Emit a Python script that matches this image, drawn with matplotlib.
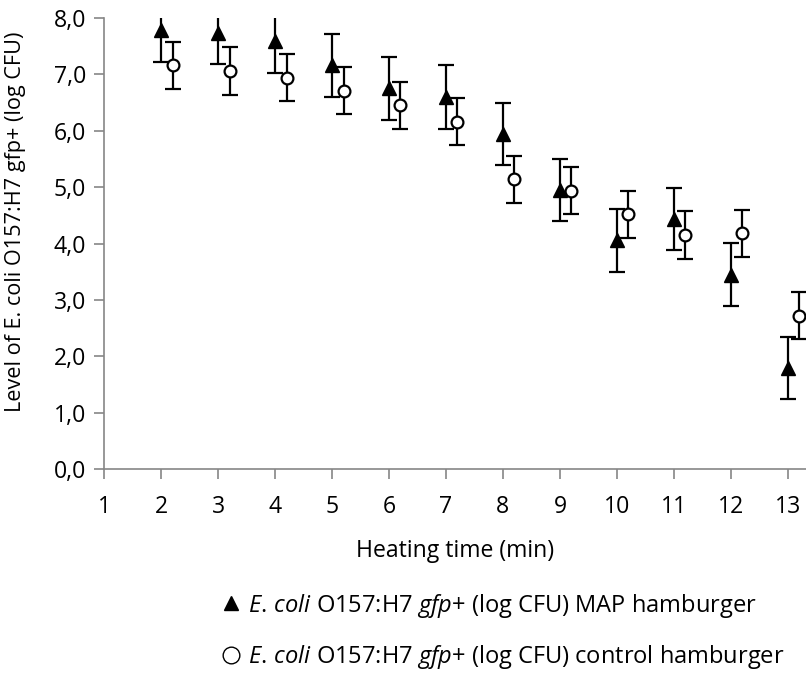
import matplotlib
matplotlib.use('Agg')
import matplotlib.pyplot as plt
from matplotlib.lines import Line2D

plt.rcParams['font.family'] = ['Open Sans', 'DejaVu Sans']
plt.rcParams['mathtext.fontset'] = 'custom'
plt.rcParams['mathtext.rm'] = 'Open Sans'
plt.rcParams['mathtext.it'] = 'Open Sans:italic'

# datos
tiempo = [2, 3, 4, 5, 6, 7, 8, 9, 10, 11, 12, 13]
map_media = [7.78, 7.74, 7.59, 7.16, 6.75, 6.60, 5.95, 4.95, 4.06, 4.44, 3.45, 1.80]
map_error = [0.56, 0.56, 0.56, 0.56, 0.56, 0.56, 0.55, 0.55, 0.56, 0.55, 0.56, 0.55]
control_media = [7.16, 7.06, 6.94, 6.71, 6.45, 6.16, 5.14, 4.94, 4.52, 4.15, 4.18, 2.72]
control_error = [0.42, 0.42, 0.42, 0.42, 0.42, 0.42, 0.42, 0.42, 0.42, 0.42, 0.42, 0.42]
desplazamiento = 0.2
tam = 16.6

fig = plt.figure(figsize=(8.06, 6.93), dpi=100)
ax = fig.add_axes([0.1294, 0.3232, 0.8706, 0.6508])

ax.errorbar(tiempo, map_media, yerr=map_error, fmt='^', color='black',
            markersize=10, elinewidth=1.6, capsize=6, capthick=1.6, zorder=3)
ax.errorbar([t + desplazamiento for t in tiempo], control_media, yerr=control_error,
            fmt='o', color='black', markerfacecolor='white', markeredgecolor='black',
            markeredgewidth=1.6, markersize=8.5, elinewidth=1.6, capsize=6,
            capthick=1.6, zorder=3)

ax.set_xlim(1, 13.32)
ax.set_ylim(0, 8)
ax.set_xticks(range(1, 14))
ax.set_yticks(range(0, 9))
ax.set_yticklabels([f'{v},0' for v in range(0, 9)])
for lado in ['top', 'right']:
    ax.spines[lado].set_visible(False)
for lado in ['left', 'bottom']:
    ax.spines[lado].set_color('#868686')
    ax.spines[lado].set_linewidth(1.2)
ax.tick_params(axis='both', colors='#868686', labelcolor='black', labelsize=tam,
               length=7, width=1.2, direction='out')
ax.tick_params(axis='x', pad=12)
ax.tick_params(axis='y', pad=6)

ax.set_xlabel('Heating time (min)', fontsize=tam, labelpad=14)
ax.set_ylabel('Level of E. coli O157:H7 gfp+ (log CFU)', fontsize=15.6)
ax.yaxis.set_label_coords(-0.112, 0.548)

manejadores = [
    Line2D([], [], linestyle='none', marker='^', color='black', markersize=10),
    Line2D([], [], linestyle='none', marker='o', markerfacecolor='white',
           markeredgecolor='black', markeredgewidth=1.0, markersize=12),
]
etiquetas = [
    r'$\mathit{E.\,coli}$ O157:H7 $\mathit{gfp{+}}$ (log CFU) MAP hamburger',
    r'$\mathit{E.\,coli}$ O157:H7 $\mathit{gfp{+}}$ (log CFU) control hamburger',
]
fig.legend(manejadores, etiquetas, loc='upper left', bbox_to_anchor=(0.262, 0.16),
           frameon=False, fontsize=17, labelspacing=1.0, handletextpad=0.25,
           handlelength=0.9, borderaxespad=0)

fig.savefig('out.png', dpi=100)
